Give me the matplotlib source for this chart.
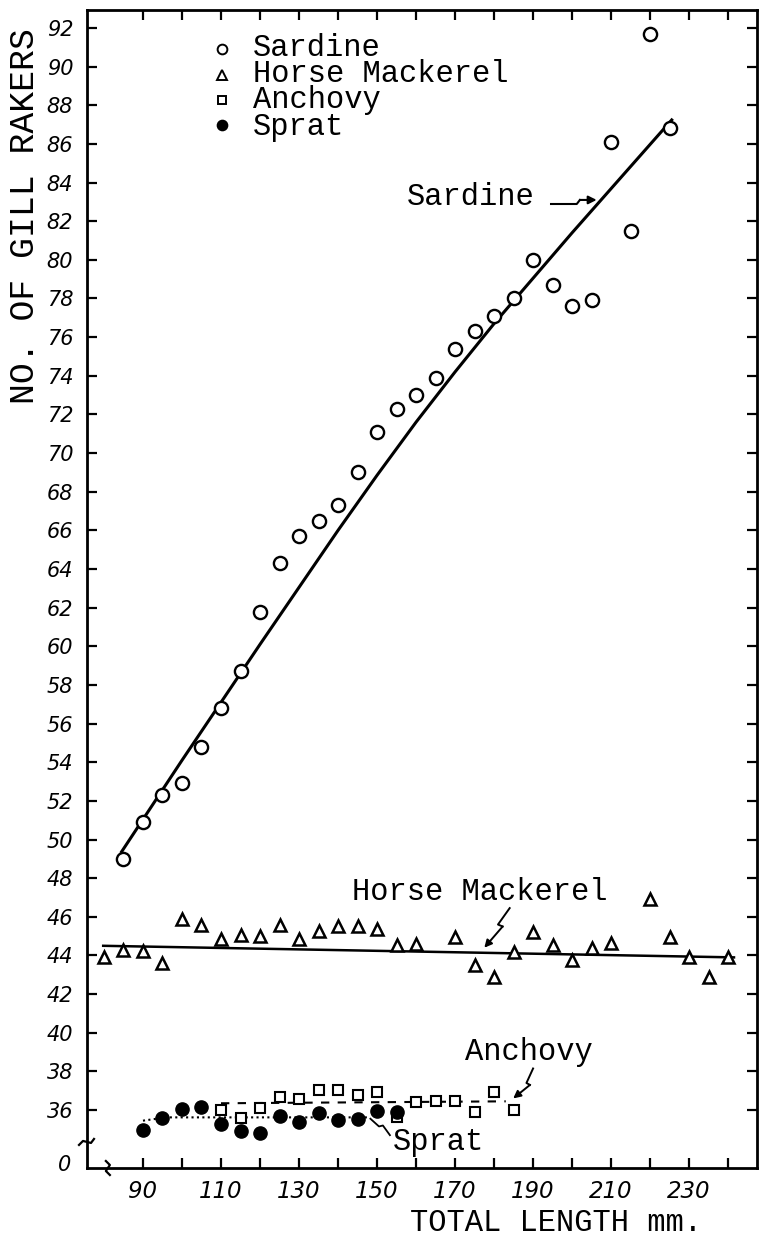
import matplotlib
matplotlib.use("Agg")
import matplotlib.pyplot as plt
import numpy as np
from matplotlib.transforms import IdentityTransform

# mean number of gill rakers by total length (mm)
sardine_len = list(range(85, 230, 5))
sardine_rakers = [49.0, 50.9, 52.3, 52.9, 54.8, 56.8, 58.7, 61.8, 64.3, 65.7,
                  66.5, 67.3, 69.0, 71.1, 72.3, 73.0, 73.9, 75.4, 76.3, 77.1,
                  78.0, 80.0, 78.7, 77.6, 77.9, 86.1, 81.5, 91.7, 86.8]

horse_len = [80, 85, 90, 95, 100, 105, 110, 115, 120, 125, 130, 135, 140, 145,
             150, 155, 160, 170, 175, 180, 185, 190, 195, 200, 205, 210, 220,
             225, 230, 235, 240]
horse_rakers = [43.9, 44.3, 44.25, 43.6, 45.9, 45.6, 44.85, 45.05, 45.0, 45.6,
                44.85, 45.25, 45.5, 45.55, 45.35, 44.55, 44.6, 44.95, 43.5,
                42.9, 44.2, 45.2, 44.55, 43.75, 44.4, 44.65, 46.9, 44.95, 43.9,
                42.9, 43.9]

anchovy_len = list(range(110, 190, 5))
anchovy_rakers = [36.0, 35.6, 36.1, 36.7, 36.55, 37.05, 37.05, 36.8, 36.95,
                  35.65, 36.4, 36.45, 36.45, 35.9, 36.95, 36.0]

sprat_len = list(range(90, 160, 5))
sprat_rakers = [34.95, 35.6, 36.05, 36.15, 35.3, 34.9, 34.8, 35.7, 35.4, 35.85,
                35.5, 35.55, 35.95, 35.9]

# fitted trend lines
sardine_fit_len = [84.3, 100, 120, 140, 150, 160, 170, 180, 200, 225.8]
sardine_fit = [49.3, 54.1, 60.1, 66.0, 68.85, 71.6, 74.2, 76.7, 81.4, 87.3]
horse_fit_len = [79.8, 241.5]
horse_fit = [44.5, 43.9]
anchovy_fit_len = [110, 183]
anchovy_fit = [36.35, 36.45]
sprat_fit_len = [90, 96, 148]
sprat_fit = [35.45, 35.62, 35.62]

y_ticks = list(range(36, 93, 2))
x_ticks = list(range(90, 241, 10))
x_labelled = list(range(90, 231, 20))

species = ["Sardine", "Horse Mackerel", "Anchovy", "Sprat"]

MONO = "Liberation Mono"
NUM = "DejaVu Sans"

fig = plt.figure(figsize=(7.59, 12.36), dpi=100)
ax = fig.add_axes([87 / 759, 1 - 1168 / 1236, 670 / 759, 1158 / 1236])
ax.set_xlim(75.65, 247.4)
ax.set_ylim(33.0, 92.93)

ax.plot(sardine_fit_len, sardine_fit, color="black", lw=2.2, zorder=2,
        solid_capstyle="butt", solid_joinstyle="round")
ax.plot(horse_fit_len, horse_fit, color="black", lw=1.8, zorder=2)
ax.plot(anchovy_fit_len, anchovy_fit, color="black", lw=1.5,
        linestyle=(0, (4, 4)), zorder=2)
ax.plot(sprat_fit_len, sprat_fit, color="black", lw=1.5,
        linestyle=(0, (1, 1.6)), zorder=2)

ax.plot(sardine_len, sardine_rakers, "o", ms=9.5, mfc="white", mec="black",
        mew=1.7, zorder=3)
ax.plot(horse_len, horse_rakers, "^", ms=9, mfc="white", mec="black",
        mew=1.8, zorder=3)
ax.plot(anchovy_len, anchovy_rakers, "s", ms=7.5, mfc="white", mec="black",
        mew=1.5, zorder=3)
ax.plot(sprat_len, sprat_rakers, "o", ms=9.5, color="black", zorder=3)

# axes frame and ticks
for s in ax.spines.values():
    s.set_linewidth(2.0)
ax.set_yticks(y_ticks)
ax.set_yticklabels([str(t) for t in y_ticks])
ax.set_xticks(x_ticks)
ax.set_xticklabels([str(t) if t in x_labelled else "" for t in x_ticks])
ax.tick_params(direction="in", length=7, width=1.6, top=True, right=True)
ax.tick_params(axis="y", pad=10)
ax.tick_params(axis="x", pad=9)
for lab in ax.get_yticklabels():
    lab.set_fontfamily(NUM)
    lab.set_fontstyle("oblique")
    lab.set_fontsize(15)
for lab in ax.get_xticklabels():
    lab.set_fontfamily(NUM)
    lab.set_fontstyle("oblique")
    lab.set_fontsize(16.5)

# the broken axis starts at zero
ax.text(-0.024, 33.15, "0", transform=ax.get_yaxis_transform(), ha="right",
        va="center", fontsize=15, fontstyle="oblique", family=NUM)


def squiggle(x0, y0, offsets):
    bx, by = ax.transData.transform((x0, y0))
    pts = np.array(offsets, float)
    ax.plot(bx + pts[:, 0], by - pts[:, 1], color="black", lw=1.6,
            transform=IdentityTransform(), clip_on=False, zorder=6)


squiggle(75.65, 34.4, [(-8, 4), (-4, 0), (0, 1), (4, 2), (7, -2)])
squiggle(81.0, 33.0, [(-2, -7), (2, -3), (0, 0), (-2, 3), (2, 7)])

# legend: key symbols and one block of names
key_marks = [("o", "white"), ("^", "white"), ("s", "white"), ("o", "black")]
row_top, row_step = 0.9663, 0.022
for i, (m, fc) in enumerate(key_marks):
    ax.plot([0.2015], [row_top - i * row_step], m, ms=7 if m != "s" else 6,
            mfc=fc, mec="black", mew=1.4, transform=ax.transAxes,
            clip_on=False)
ax.text(0.2478, row_top - 1.5 * row_step, "\n".join(species),
        transform=ax.transAxes, family=MONO, fontsize=22, va="center",
        ha="left", linespacing=0.835)

# curve labels with leaders
ax.text(174.1, 83.25, species[0], family=MONO, fontsize=22, ha="center",
        va="center")
ax.plot([194.6, 201.2, 202.0], [82.89, 82.89, 83.1], color="black", lw=1.5)
ax.annotate("", xy=(206.3, 83.1), xytext=(202.0, 83.1),
            arrowprops=dict(arrowstyle="-|>", lw=1.5, color="black",
                            mutation_scale=12, shrinkA=0, shrinkB=0))

ax.text(176.4, 47.28, species[1], family=MONO, fontsize=22,
        ha="center", va="center")
ax.plot([184.0, 181.0, 182.2], [46.45, 45.6, 45.5], color="black", lw=1.4)
ax.annotate("", xy=(177.5, 44.4), xytext=(182.2, 45.5),
            arrowprops=dict(arrowstyle="-|>", lw=1.4, color="black",
                            mutation_scale=11, shrinkA=0, shrinkB=0))

ax.text(188.9, 39.0, species[2], family=MONO, fontsize=22, ha="center",
        va="center")
ax.plot([190.0, 188.3, 189.2], [38.15, 37.4, 37.3], color="black", lw=1.4)
ax.annotate("", xy=(184.9, 36.6), xytext=(189.2, 37.3),
            arrowprops=dict(arrowstyle="-|>", lw=1.4, color="black",
                            mutation_scale=11, shrinkA=0, shrinkB=0))

ax.text(165.7, 34.34, species[3], family=MONO, fontsize=22, ha="center",
        va="center")
ax.plot([148.3, 150.5, 151.5, 153.3], [35.55, 35.15, 35.2, 34.7],
        color="black", lw=1.3)

fig.text(25 / 759, 1 - 216 / 1236, "NO. OF GILL RAKERS", rotation=90,
         family=MONO, fontsize=25, ha="center", va="center")
fig.text(556 / 759, 1 - 1223 / 1236, "TOTAL LENGTH mm.", family=MONO,
         fontsize=22, ha="center", va="center")

fig.savefig("out.png", dpi=100)
